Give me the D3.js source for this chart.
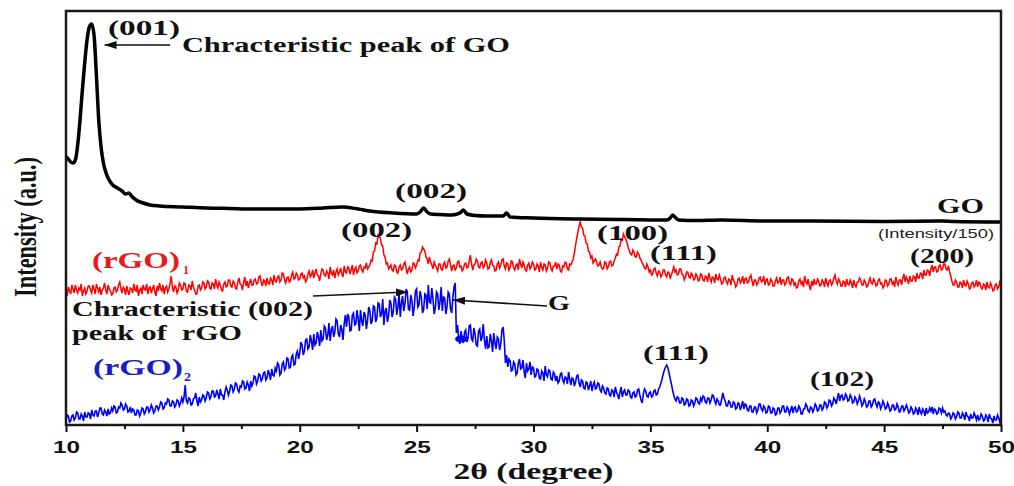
<!DOCTYPE html>
<html>
<head>
<meta charset="utf-8">
<script src="https://cdn.jsdelivr.net/npm/d3@7"></script>
<style>
  body { margin: 0; background: #fff; }
  svg text { font-family: "Liberation Serif", "Times New Roman", serif; font-weight: bold; white-space: pre; }
</style>
</head>
<body>
<svg id="chart"></svg>
<script>
let width = 1014;
let height = 486;
let margin = {"top": 11, "right": 13, "bottom": 61, "left": 66};

// x ticks
const majorTicks = [10, 15, 20, 25, 30, 35, 40, 45, 50];
const minorTicks = [12.5, 17.5, 22.5, 27.5, 32.5, 37.5, 42.5, 47.5];

// GO pattern (already divided by 150), irregular points
const goTheta = [10.0, 10.1, 10.2, 10.3, 10.4, 10.5, 10.6, 10.7, 10.8, 10.9, 11.0, 11.1, 11.2, 11.3, 11.4, 11.5,
    11.6, 11.7, 11.8, 11.9, 12.0, 12.2, 12.4, 12.55, 12.7, 12.8, 13.0, 13.3, 13.6, 14, 15, 16, 17, 18, 19, 20, 21,
    21.8, 22.5, 23, 24, 25, 25.15, 25.3, 25.45, 25.6, 26, 26.5, 26.85, 27.0, 27.15, 27.5, 28, 28.7, 28.85, 29.0,
    30, 32, 34, 35.7, 35.85, 35.95, 36.05, 36.2, 37, 38, 40, 42, 45, 47.5, 48, 50];
const goIntensity = [268, 266, 263, 262, 265, 280, 305, 335, 362, 385, 398, 401, 390, 350, 305, 278,
    262, 253, 247, 243, 240, 237, 234, 231, 232, 229, 225, 222, 220, 219, 218, 217, 216.5, 216, 216, 216, 217,
    218, 216, 214, 212, 211, 213, 217, 213, 211, 210.5, 210, 212, 215, 211, 209.5, 209, 209, 212, 208,
    207, 206, 205.5, 205, 207, 210, 208, 205, 204.5, 205, 204, 204, 203.5, 204, 203.5, 203];

// rGO samples, 2θ from 10 to 50 in 0.05 steps (one row per degree)
const twoThetaStart = 10;
const twoThetaStep = 0.05;
const rgo1Intensity = [
    133,129,138,134,131,140,136,132,140,135,132,137,135,141,129,134,137,131,134,139,
    139,135,132,140,136,131,141,137,133,138,130,135,137,142,135,131,140,136,134,130,
    131,137,138,133,135,140,143,136,132,138,136,130,139,134,130,137,136,132,141,135,
    134,140,129,135,137,131,140,136,135,141,131,137,138,132,136,140,133,129,139,134,
    142,136,134,140,131,137,139,133,136,141,149,138,133,139,138,132,135,142,140,135,
    136,142,141,134,133,140,139,135,144,138,135,131,131,139,140,135,137,143,142,136,
    138,144,143,137,136,142,141,136,146,140,137,143,140,135,134,141,143,138,139,145,
    145,139,138,144,142,137,136,143,147,141,140,135,143,148,139,144,137,142,146,140,
    140,145,146,141,142,148,149,143,139,145,144,139,147,142,141,147,145,140,150,144,
    143,148,149,143,145,152,151,145,142,147,148,143,144,150,153,146,147,152,150,145,
    146,151,152,147,149,143,145,151,154,148,150,155,147,152,156,150,149,144,151,156,
    155,150,149,154,152,146,158,152,150,155,147,153,156,150,153,157,151,148,159,153,
    152,158,157,151,155,160,150,156,158,152,154,159,160,155,153,158,157,162,156,158,
    160,165,164,173,174,182,181,190,188,187,180,179,170,168,161,162,156,158,160,155,
    154,160,159,153,152,158,160,155,156,161,163,157,151,156,158,153,155,162,161,157,
    160,165,164,172,173,178,176,174,168,166,161,168,163,160,156,163,160,157,154,161,
    161,156,155,161,163,157,158,164,166,160,154,159,160,155,157,163,164,158,159,154,
    156,161,162,157,158,164,170,161,155,160,161,166,164,158,157,162,163,157,159,165,
    162,156,157,162,165,160,159,154,155,161,163,157,160,165,166,159,156,162,161,155,
    158,164,163,157,155,160,161,155,166,161,157,163,160,155,154,160,162,156,158,163,
    161,155,156,161,159,153,163,158,155,161,160,154,157,163,162,156,154,159,159,163,
    156,161,160,154,153,159,158,163,162,156,155,161,160,163,166,172,180,187,193,199,
    203,198,197,190,189,182,181,174,173,167,169,162,164,166,163,159,160,163,158,156,
    157,163,162,156,158,163,164,159,160,164,167,171,170,178,179,186,185,191,188,186,
    182,178,174,171,170,175,173,168,168,173,171,167,165,162,160,157,156,161,158,153,
    155,150,151,156,157,152,149,154,153,148,150,155,155,150,148,153,152,147,150,154,
    158,153,155,150,151,156,156,151,150,145,148,153,153,148,147,152,150,145,146,151,
    149,144,145,151,150,145,144,149,148,143,152,147,143,148,147,142,151,146,145,150,
    146,141,142,147,148,143,141,146,145,140,150,145,143,138,140,146,147,142,144,149,
    141,146,147,142,143,148,150,144,139,145,145,140,142,147,148,143,144,149,140,145,
    146,140,141,146,144,139,139,144,147,142,143,148,140,145,145,140,142,147,148,142,
    140,146,145,140,142,137,138,144,146,141,143,138,149,143,141,146,139,135,144,139,
    146,141,141,146,144,139,140,145,143,138,147,142,139,144,145,140,142,147,150,144,
    141,146,144,139,139,144,143,138,146,141,140,145,142,137,145,140,138,143,143,147,
    145,140,140,145,143,138,139,144,147,142,141,146,144,139,140,145,146,141,142,137,
    139,145,144,139,141,146,146,141,143,138,148,143,140,145,145,140,147,151,143,148,
    145,141,149,144,144,149,148,143,152,147,147,152,151,146,155,150,150,155,154,149,
    156,160,153,158,158,153,154,159,160,155,156,161,161,156,155,159,153,149,144,140,
    140,145,143,138,138,143,142,137,145,140,139,144,141,136,137,142,143,138,140,145,
    138,143,142,137,136,141,140,135,143,138,137,142,139,134,135,140,141,136,138,143,
    141];
const rgo2Intensity = [
    5,10,9,3,4,9,10,5,7,13,12,6,6,11,9,4,13,8,8,12,
    11,6,15,10,9,14,14,8,12,17,17,11,10,15,13,9,16,11,12,17,
    14,19,18,12,13,18,17,22,20,15,16,21,19,13,14,18,12,16,15,10,
    10,15,14,9,12,17,16,11,13,18,18,13,15,20,17,12,14,19,19,15,
    18,23,22,16,17,22,21,26,25,19,19,24,23,18,20,25,24,19,22,27,
    23,28,40,24,22,27,26,20,21,26,27,32,24,19,28,23,25,30,29,24,
    27,33,32,26,28,34,34,28,29,35,31,26,36,30,30,25,33,38,35,30,
    34,40,39,33,36,42,41,35,33,39,38,44,43,36,37,43,40,34,44,39,
    42,49,48,41,44,51,50,44,46,52,53,45,47,55,51,45,56,50,49,57,
    54,62,60,50,52,61,63,55,57,67,66,57,58,68,70,60,61,71,74,66,
    72,83,80,70,74,85,86,76,78,90,84,75,91,80,82,93,88,79,95,84,
    86,99,97,85,90,102,84,95,99,88,93,106,104,91,88,100,96,85,101,110,
    98,111,108,94,95,110,112,100,101,115,106,94,115,104,99,113,110,96,104,118,
    114,101,104,119,118,103,107,122,121,108,111,126,100,114,117,103,109,125,122,108,
    113,128,126,110,118,132,108,122,129,114,121,136,133,116,115,130,124,109,118,134,
    136,118,120,134,128,112,115,131,130,116,140,123,122,137,126,111,117,133,131,115,
    123,138,114,128,127,111,118,133,131,116,112,128,138,142,92,100,86,81,94,86,
    82,93,95,83,87,99,100,86,84,97,91,80,79,94,96,84,88,101,85,76,
    89,77,78,91,84,73,92,82,76,88,86,75,81,95,98,84,62,70,58,66,
    64,54,55,63,61,50,52,62,66,56,57,65,53,47,62,54,56,63,50,58,
    57,48,49,56,55,47,46,54,52,44,59,50,48,55,54,46,45,53,51,44,
    49,42,44,51,52,45,42,48,47,41,53,46,40,47,46,39,43,49,50,42,
    38,45,44,37,36,43,42,35,39,44,34,40,43,36,37,42,41,35,33,39,
    37,32,31,37,36,30,29,35,34,28,38,33,30,26,33,38,28,33,35,30,
    30,35,34,28,27,32,33,28,29,35,36,30,25,22,31,36,34,29,28,32,
    33,28,29,34,35,30,31,36,38,42,46,51,55,58,60,57,52,46,41,35,
    30,26,24,28,27,22,22,27,26,20,21,26,25,19,20,25,24,19,22,27,
    26,22,21,27,24,29,28,23,22,27,27,22,25,30,29,24,21,26,24,20,
    20,26,32,27,24,19,19,24,23,18,18,23,22,16,17,22,21,15,19,24,
    16,21,20,15,14,19,19,13,13,18,18,12,15,21,21,16,14,19,17,12,
    13,19,18,12,12,17,16,10,11,17,17,12,14,19,19,13,13,18,16,11,
    15,19,12,17,18,13,14,19,17,11,11,16,16,21,19,14,13,18,17,13,
    16,21,19,14,15,20,20,15,17,23,22,17,19,25,24,19,21,27,25,21,
    27,32,24,29,30,25,26,31,29,24,25,30,28,22,23,28,26,21,24,29,
    25,19,21,26,23,18,19,24,24,18,20,25,26,21,18,23,22,16,19,24,
    21,16,17,22,19,14,15,20,20,15,16,21,18,13,14,19,19,14,16,20,
    17,12,13,18,16,11,12,17,15,10,18,13,11,16,14,9,17,12,13,17,
    14,18,11,16,15,11,12,17,16,12,17,13,14,10,9,12,11,6,8,12,
    11,6,8,13,12,7,7,12,10,5,13,9,8,4,11,7,7,12,9,5,
    10,5,6,11,9,4,5,10,8,3,11,7,6,2,9,5,5,10,7,3,
    8];

// peak labels: text, 2θ, intensity (left/baseline of text)
const peakLabels = [
    ["(001)", 11.80, 390], ["(002)", 24.08, 227],
    ["(002)", 21.77, 188], ["(100)", 32.72, 185], ["(111)", 34.98, 165], ["(200)", 46.11, 162],
    ["(111)", 34.68, 65], ["(102)", 41.83, 39]
];
const peakLabelWidths = [72, 72, 71, 71, 67, 64, 66, 64];

// arrows: from 2θ, from I, to 2θ, to I
const arrows = [[14.45, 380, 11.65, 380], [20.57, 129, 24.63, 133], [30.58, 119, 26.56, 125]];
const blobPoint = [26.9, 86];

let svg = d3.select("#chart")
    .attr("width", width)
    .attr("height", height);

let x = d3.scaleLinear()
    .domain([10, 50])
    .range([margin.left, width - margin.right]);
let y = d3.scaleLinear()
    .domain([0, 414])
    .range([height - margin.bottom, margin.top]);

let toPoints = (arr) => arr.map((v, i) => ({t: twoThetaStart + i * twoThetaStep, v: v}));
let goData = goTheta.map((t, i) => ({t: t, v: goIntensity[i]}));

let line = d3.line().x((d) => x(d.t)).y((d) => y(d.v));

svg.append("defs").append("marker")
    .attr("id", "arrow")
    .attr("viewBox", "0 0 12 8")
    .attr("refX", 12)
    .attr("refY", 4)
    .attr("markerUnits", "userSpaceOnUse")
    .attr("markerWidth", 12)
    .attr("markerHeight", 8)
    .attr("orient", "auto")
    .append("path")
    .attr("d", "M0,0 L12,4 L0,8 z")
    .style("fill", "#111");

svg.append("path")
    .datum(toPoints(rgo1Intensity))
    .attr("d", line)
    .style("fill", "none")
    .style("stroke", "#ff0000")
    .style("stroke-width", 1.5);

svg.append("path")
    .datum(toPoints(rgo2Intensity))
    .attr("d", line)
    .style("fill", "none")
    .style("stroke", "#0000f5")
    .style("stroke-width", 1.6);

svg.append("ellipse")
    .attr("cx", x(blobPoint[0]))
    .attr("cy", y(blobPoint[1]))
    .attr("rx", 6)
    .attr("ry", 3.5)
    .style("fill", "#0000f5");

svg.append("path")
    .datum(goData)
    .attr("d", line.curve(d3.curveMonotoneX))
    .style("fill", "none")
    .style("stroke", "#000")
    .style("stroke-width", 3.5);

// frame
svg.append("rect")
    .attr("x", x(10))
    .attr("y", y(414))
    .attr("width", x(50) - x(10))
    .attr("height", y(0) - y(414))
    .style("fill", "none")
    .style("stroke", "#1a1a1a")
    .style("stroke-width", 2.5);

let xAxis = svg.append("g")
    .attr("transform", `translate(0, ${y(0)})`)
    .call(d3.axisBottom(x).tickValues(majorTicks).tickSize(7).tickPadding(10).tickFormat(d3.format("d")));
xAxis.select(".domain").remove();
xAxis.selectAll("line").style("stroke", "#111").style("stroke-width", 2);
xAxis.selectAll("text")
    .style("font-family", "'Liberation Sans', Arial, sans-serif")
    .style("font-weight", "bold")
    .style("font-size", "16px")
    .style("fill", "#111")
    .attr("textLength", 27)
    .attr("lengthAdjust", "spacingAndGlyphs");

let minorAxis = svg.append("g")
    .attr("transform", `translate(0, ${y(0)})`)
    .call(d3.axisBottom(x).tickValues(minorTicks).tickSize(4).tickFormat(""));
minorAxis.select(".domain").remove();
minorAxis.selectAll("line").style("stroke", "#111").style("stroke-width", 2);

svg.append("text")
    .attr("x", x(30))
    .attr("y", 479)
    .attr("text-anchor", "middle")
    .attr("textLength", 160)
    .attr("lengthAdjust", "spacingAndGlyphs")
    .style("font-size", "23px")
    .style("fill", "#111")
    .text("2θ (degree)");

svg.append("text")
    .attr("transform", `translate(36, 227) rotate(-90)`)
    .attr("text-anchor", "middle")
    .attr("textLength", 140)
    .attr("lengthAdjust", "spacingAndGlyphs")
    .style("font-size", "32px")
    .style("fill", "#111")
    .text("Intensity (a.u.)");

function addLabel(text, t, v, w, size, color) {
    let el = svg.append("text")
        .attr("x", x(t))
        .attr("y", y(v))
        .style("font-size", size + "px")
        .style("fill", color)
        .text(text);
    if (w) {
        el.attr("textLength", w).attr("lengthAdjust", "spacingAndGlyphs");
    }
    return el;
}

peakLabels.forEach(function(d, i) {
    addLabel(d[0], d[1], d[2], peakLabelWidths[i], 20, "#111");
});

addLabel("Chracteristic peak of GO", 14.96, 373, 328, 20, "#111");
addLabel("GO", 47.26, 212, 47, 21, "#111");
addLabel("(Intensity/150)", 44.74, 187, 116, 12, "#222")
    .style("font-family", "'Liberation Sans', Arial, sans-serif")
    .style("font-weight", "normal");
addLabel("Chracteristic (002)", 10.26, 109, 241, 20, "#111");
addLabel("peak of  rGO", 10.26, 85, 170, 20, "#111");
addLabel("G", 30.62, 115, 22, 20, "#111");

addLabel("(rGO)", 11.11, 157, 88, 23, "#e8191c");
addLabel("1", 15.0, 151, 6, 13, "#e8191c");
addLabel("(rGO)", 11.16, 50, 90, 23, "#1c1cc4");
addLabel("2", 15.05, 44, 7, 13, "#1c1cc4");

svg.selectAll("line.arrow")
    .data(arrows)
    .enter().append("line")
    .attr("class", "arrow")
    .attr("x1", (d) => x(d[0]))
    .attr("y1", (d) => y(d[1]))
    .attr("x2", (d) => x(d[2]))
    .attr("y2", (d) => y(d[3]))
    .style("stroke", "#111")
    .style("stroke-width", 1.6)
    .attr("marker-end", "url(#arrow)");
</script>
</body>
</html>
